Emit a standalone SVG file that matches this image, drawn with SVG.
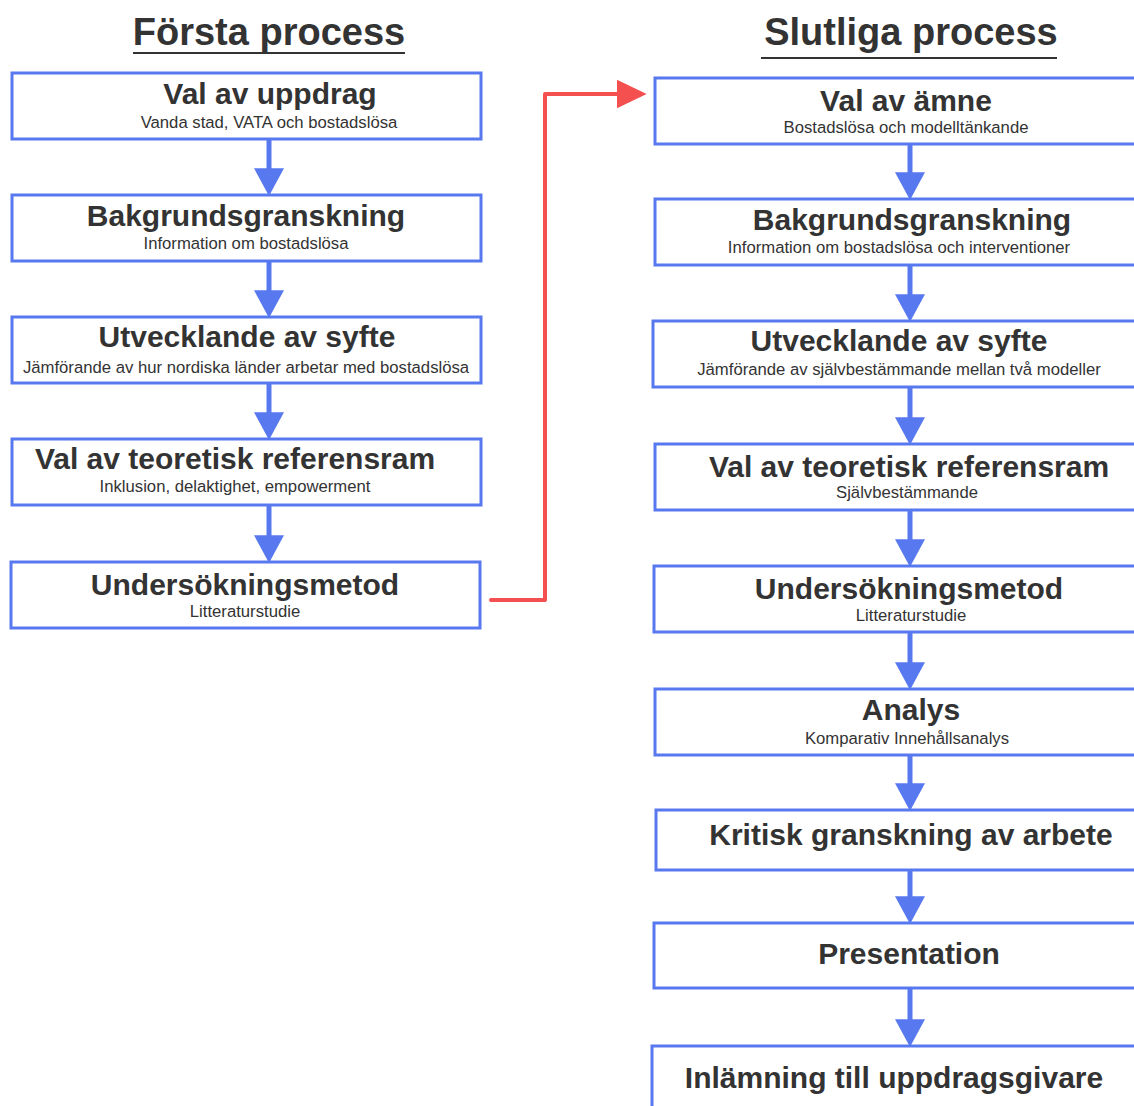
<svg xmlns="http://www.w3.org/2000/svg" width="1134" height="1106" viewBox="0 0 1134 1106">
<style>
.box{fill:#ffffff;stroke:#5878ef;stroke-width:3}
.h{font-family:"Liberation Sans",Arial,sans-serif;font-weight:bold;font-size:30px;fill:#333333;text-anchor:middle}
.s{font-family:"Liberation Sans",Arial,sans-serif;font-size:16.7px;fill:#333333;text-anchor:middle}
.t{font-family:"Liberation Sans",Arial,sans-serif;font-weight:bold;font-size:38px;fill:#333333;text-anchor:middle}
.ul{stroke:#333333;stroke-width:2}
.blue{stroke:#5878ef;stroke-width:5;fill:none}
.red{stroke:#f55050;stroke-width:4;fill:none;stroke-linejoin:round;stroke-linecap:round}
</style>
<defs>
<marker id="ab" markerUnits="userSpaceOnUse" markerWidth="30" markerHeight="30" viewBox="0 0 26 28" refX="12" refY="14" orient="auto">
<path d="M0,0 L26,14 L0,28 Z" fill="#5878ef"/>
</marker>
<marker id="ar" markerUnits="userSpaceOnUse" markerWidth="30" markerHeight="30" viewBox="0 0 27 26" refX="12" refY="13" orient="auto">
<path d="M0,0 L27,13 L0,26 Z" fill="#f55050"/>
</marker>
</defs>
<rect width="1134" height="1106" fill="#ffffff"/>

<g id="titles">
<text class="t" x="269" y="45">Första process</text>
<line class="ul" x1="133" y1="53" x2="405" y2="53"/>
<text class="t" x="911" y="45">Slutliga process</text>
<line class="ul" x1="761" y1="58" x2="1057" y2="58"/>
</g>

<g id="connectors">
<line class="blue" x1="269" y1="140" x2="269" y2="181" marker-end="url(#ab)"/>
<line class="blue" x1="269" y1="262" x2="269" y2="303" marker-end="url(#ab)"/>
<line class="blue" x1="269" y1="384" x2="269" y2="425" marker-end="url(#ab)"/>
<line class="blue" x1="269" y1="506" x2="269" y2="548" marker-end="url(#ab)"/>
<line class="blue" x1="910" y1="145" x2="910" y2="185" marker-end="url(#ab)"/>
<line class="blue" x1="910" y1="266" x2="910" y2="307" marker-end="url(#ab)"/>
<line class="blue" x1="910" y1="388" x2="910" y2="430" marker-end="url(#ab)"/>
<line class="blue" x1="910" y1="511" x2="910" y2="552" marker-end="url(#ab)"/>
<line class="blue" x1="910" y1="633" x2="910" y2="675" marker-end="url(#ab)"/>
<line class="blue" x1="910" y1="756" x2="910" y2="796" marker-end="url(#ab)"/>
<line class="blue" x1="910" y1="871" x2="910" y2="909" marker-end="url(#ab)"/>
<line class="blue" x1="910" y1="989" x2="910" y2="1032" marker-end="url(#ab)"/>
<polyline class="red" points="491,600 545,600 545,94 630,94" marker-end="url(#ar)"/>
</g>

<g id="l1"><rect class="box" x="12" y="73" width="469" height="66"/>
<text class="h" x="270" y="104">Val av uppdrag</text><text class="s" x="269" y="128">Vanda stad, VATA och bostadslösa</text></g>
<g id="l2"><rect class="box" x="12" y="195" width="469" height="66"/>
<text class="h" x="246" y="226">Bakgrundsgranskning</text><text class="s" x="246" y="249">Information om bostadslösa</text></g>
<g id="l3"><rect class="box" x="12" y="317" width="469" height="66"/>
<text class="h" x="247" y="347">Utvecklande av syfte</text><text class="s" x="246" y="373">Jämförande av hur nordiska länder arbetar med bostadslösa</text></g>
<g id="l4"><rect class="box" x="12" y="439" width="469" height="66"/>
<text class="h" x="235" y="469">Val av teoretisk referensram</text><text class="s" x="235" y="492">Inklusion, delaktighet, empowerment</text></g>
<g id="l5"><rect class="box" x="11" y="562" width="469" height="66"/>
<text class="h" x="245" y="595">Undersökningsmetod</text><text class="s" x="245" y="617">Litteraturstudie</text></g>

<g id="r1"><rect class="box" x="655" y="78" width="520" height="66"/>
<text class="h" x="906" y="111">Val av ämne</text><text class="s" x="906" y="133">Bostadslösa och modelltänkande</text></g>
<g id="r2"><rect class="box" x="655" y="199" width="520" height="66"/>
<text class="h" x="912" y="230">Bakgrundsgranskning</text><text class="s" x="899" y="253">Information om bostadslösa och interventioner</text></g>
<g id="r3"><rect class="box" x="653" y="321" width="520" height="66"/>
<text class="h" x="899" y="351">Utvecklande av syfte</text><text class="s" x="899" y="375">Jämförande av självbestämmande mellan två modeller</text></g>
<g id="r4"><rect class="box" x="655" y="444" width="520" height="66"/>
<text class="h" x="909" y="477">Val av teoretisk referensram</text><text class="s" x="907" y="498">Självbestämmande</text></g>
<g id="r5"><rect class="box" x="654" y="566" width="520" height="66"/>
<text class="h" x="909" y="599">Undersökningsmetod</text><text class="s" x="911" y="621">Litteraturstudie</text></g>
<g id="r6"><rect class="box" x="655" y="689" width="520" height="66"/>
<text class="h" x="911" y="720">Analys</text><text class="s" x="907" y="744">Komparativ Innehållsanalys</text></g>
<g id="r7"><rect class="box" x="656" y="810" width="520" height="60"/>
<text class="h" x="911" y="845">Kritisk granskning av arbete</text></g>
<g id="r8"><rect class="box" x="654" y="923" width="520" height="65"/>
<text class="h" x="909" y="964">Presentation</text></g>
<g id="r9"><rect class="box" x="652" y="1046" width="520" height="70"/>
<text class="h" x="894" y="1088">Inlämning till uppdragsgivare</text></g>
</svg>
